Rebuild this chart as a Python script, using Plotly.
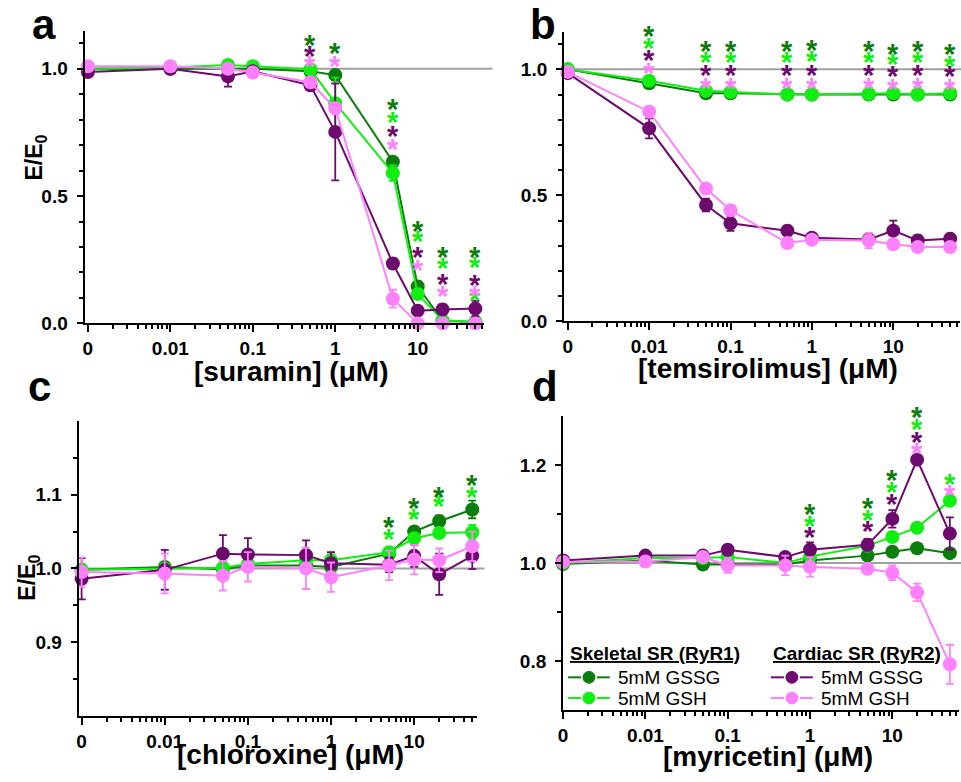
import math
import plotly.graph_objects as go

FONT = "Liberation Sans, Arial, sans-serif"
W, H = 961, 782

# ---------------- data ----------------
conc = [0, 0.01, 0.05, 0.1, 0.5, 1, 5, 10, 20, 50]   # µM ; 0 is drawn at the axis break
ZERO_POS = 1e-3

series_names = ["Skeletal GSSG", "Skeletal GSH", "Cardiac GSSG", "Cardiac GSH"]
colors = {"Skeletal GSSG": "#0b7d0b", "Skeletal GSH": "#11ee11",
          "Cardiac GSSG": "#6e0a6e", "Cardiac GSH": "#ff80ff"}

# panel a : suramin
sur_skel_gssg = [1.0, 1.0, 1.0, 1.0, 0.99, 0.975, 0.635, 0.145, 0.01, 0.005]
sur_skel_gsh  = [1.0, 1.005, 1.015, 1.01, 0.998, 0.865, 0.59, 0.115, 0.012, 0.005]
sur_card_gssg = [0.987, 1.0, 0.97, 0.99, 0.935, 0.752, 0.235, 0.05, 0.055, 0.058]
sur_card_gsh  = [1.01, 1.01, 1.0, 0.985, 0.947, 0.845, 0.097, 0.0, 0.0, 0.0]
sur_skel_gssg_err = [0.01, 0.01, 0.01, 0.01, 0.01, 0.02, 0.015, 0.02, 0.01, 0.005]
sur_skel_gsh_err  = [0.01, 0.01, 0.01, 0.01, 0.01, 0.1, 0.03, 0.02, 0.01, 0.005]
sur_card_gssg_err = [0.01, 0.02, 0.04, 0.02, 0.02, 0.19, 0.02, 0.01, 0.02, 0.03]
sur_card_gsh_err  = [0.01, 0.01, 0.01, 0.02, 0.02, 0.02, 0.035, 0.005, 0.005, 0.005]

# panel b : temsirolimus
tem_skel_gssg = [1.0, 0.945, 0.905, 0.905, 0.9, 0.9, 0.9, 0.9, 0.9, 0.9]
tem_skel_gsh  = [1.0, 0.955, 0.915, 0.91, 0.9, 0.9, 0.902, 0.905, 0.9, 0.905]
tem_card_gssg = [0.985, 0.766, 0.462, 0.389, 0.36, 0.332, 0.325, 0.36, 0.321, 0.328]
tem_card_gsh  = [0.99, 0.832, 0.527, 0.441, 0.311, 0.324, 0.321, 0.306, 0.295, 0.295]
tem_skel_gssg_err = [0.01] * 10
tem_skel_gsh_err  = [0.01] * 10
tem_card_gssg_err = [0.02, 0.04, 0.025, 0.03, 0.02, 0.015, 0.01, 0.04, 0.02, 0.02]
tem_card_gsh_err  = [0.02, 0.02, 0.02, 0.01, 0.02, 0.015, 0.03, 0.01, 0.015, 0.02]

# panel c : chloroxine
chl_skel_gssg = [0.998, 1.002, 0.999, 1.004, 1.004, 1.002, 1.02, 1.05, 1.064, 1.08]
chl_skel_gsh  = [0.998, 1.0, 1.001, 1.006, 1.011, 1.011, 1.022, 1.041, 1.048, 1.049]
chl_card_gssg = [0.986, 0.998, 1.02, 1.019, 1.018, 1.007, 1.005, 1.017, 0.992, 1.017]
chl_card_gsh  = [0.995, 0.993, 0.99, 1.002, 1.0, 0.988, 1.004, 1.012, 1.011, 1.03]
chl_skel_gssg_err = [0.005, 0.005, 0.005, 0.005, 0.005, 0.01, 0.005, 0.006, 0.008, 0.012]
chl_skel_gsh_err  = [0.005, 0.005, 0.005, 0.005, 0.005, 0.008, 0.005, 0.006, 0.006, 0.01]
chl_card_gssg_err = [0.028, 0.027, 0.025, 0.022, 0.02, 0.015, 0.01, 0.015, 0.028, 0.018]
chl_card_gsh_err  = [0.02, 0.027, 0.02, 0.02, 0.028, 0.02, 0.02, 0.02, 0.016, 0.02]

# panel d : myricetin
myr_skel_gssg = [0.998, 1.005, 0.997, 0.997, 0.997, 1.005, 1.015, 1.023, 1.03, 1.02]
myr_skel_gsh  = [1.0, 1.01, 1.01, 1.012, 1.0, 1.013, 1.035, 1.053, 1.072, 1.127]
myr_card_gssg = [1.005, 1.015, 1.015, 1.027, 1.012, 1.027, 1.037, 1.09, 1.211, 1.06]
myr_card_gsh  = [1.002, 1.003, 1.012, 0.995, 0.995, 0.992, 0.988, 0.98, 0.94, 0.793]
myr_skel_gssg_err = [0.005, 0.005, 0.005, 0.008, 0.01, 0.008, 0.005, 0.005, 0.005, 0.005]
myr_skel_gsh_err  = [0.005, 0.005, 0.005, 0.005, 0.005, 0.008, 0.005, 0.005, 0.005, 0.005]
myr_card_gssg_err = [0.005, 0.008, 0.008, 0.01, 0.008, 0.015, 0.012, 0.018, 0.005, 0.033]
myr_card_gsh_err  = [0.005, 0.01, 0.01, 0.015, 0.02, 0.02, 0.01, 0.015, 0.018, 0.04]

# significance asterisks (concentration, height)
sur_stars = {
    "Skeletal GSSG": ([0.5, 1, 5, 10, 20, 50], [1.12, 1.09, 0.87, 0.39, 0.29, 0.29]),
    "Skeletal GSH":  ([5, 10, 20, 50, 50], [0.817, 0.35, 0.244, 0.248, 0.12]),
    "Cardiac GSSG":  ([0.5, 5, 10, 20, 50], [1.077, 0.765, 0.288, 0.182, 0.178]),
    "Cardiac GSH":   ([0.5, 1, 5, 10, 20, 50], [1.04, 1.04, 0.713, 0.239, 0.136, 0.136]),
}
tem_star_x = [0.01, 0.05, 0.1, 0.5, 1, 5, 10, 20, 50]
tem_stars = {
    "Skeletal GSSG": (tem_star_x, [1.16, 1.10, 1.10, 1.10, 1.105, 1.10, 1.09, 1.10, 1.09]),
    "Skeletal GSH":  (tem_star_x, [1.112, 1.056, 1.056, 1.056, 1.062, 1.056, 1.05, 1.056, 1.043]),
    "Cardiac GSSG":  (tem_star_x, [1.065, 1.004, 1.004, 1.004, 1.004, 1.004, 1.0, 1.004, 1.0]),
    "Cardiac GSH":   (tem_star_x, [1.014, 0.952, 0.952, 0.952, 0.954, 0.952, 0.948, 0.952, 0.948]),
}
chl_stars = {
    "Skeletal GSSG": ([5, 10, 20, 50], [1.066, 1.092, 1.107, 1.123]),
    "Skeletal GSH":  ([5, 10, 20, 50], [1.05, 1.077, 1.094, 1.107]),
}
myr_stars = {
    "Skeletal GSSG": ([1, 5, 10, 20], [1.115, 1.127, 1.183, 1.313]),
    "Skeletal GSH":  ([1, 5, 10, 20, 50], [1.09, 1.103, 1.159, 1.288, 1.175]),
    "Cardiac GSSG":  ([1, 5, 10, 20], [1.067, 1.08, 1.135, 1.261]),
    "Cardiac GSH":   ([20, 50], [1.238, 1.153]),
}

x_tick_vals = [0, 0.01, 0.1, 1, 10]
x_tick_text = ["0", "0.01", "0.1", "1", "10"]

legend_groups = ["Skeletal SR (RyR1)", "Cardiac SR (RyR2)"]
legend_labels = ["5mM GSSG", "5mM GSH"]

panels = [
    dict(name="a", xlabel="[suramin] (μM)",
         data=[sur_skel_gssg, sur_skel_gsh, sur_card_gssg, sur_card_gsh],
         err=[sur_skel_gssg_err, sur_skel_gsh_err, sur_card_gssg_err, sur_card_gsh_err],
         stars=sur_stars, yrange=[0, 1.15], ytick=[0.0, 0.5, 1.0],
         yminor=[0.1, 0.2, 0.3, 0.4, 0.6, 0.7, 0.8, 0.9, 1.1],
         xdom=(80, 482), ydom=(31, 328), xr=[-3.04, 1.81]),
    dict(name="b", xlabel="[temsirolimus] (μM)",
         data=[tem_skel_gssg, tem_skel_gsh, tem_card_gssg, tem_card_gsh],
         err=[tem_skel_gssg_err, tem_skel_gsh_err, tem_card_gssg_err, tem_card_gsh_err],
         stars=tem_stars, yrange=[0, 1.15], ytick=[0.0, 0.5, 1.0],
         yminor=[0.1, 0.2, 0.3, 0.4, 0.6, 0.7, 0.8, 0.9, 1.1],
         xdom=(562, 960), ydom=(32, 326), xr=[-3.045, 1.82]),
    dict(name="c", xlabel="[chloroxine] (μM)",
         data=[chl_skel_gssg, chl_skel_gsh, chl_card_gssg, chl_card_gsh],
         err=[chl_skel_gssg_err, chl_skel_gsh_err, chl_card_gssg_err, chl_card_gsh_err],
         stars=chl_stars, yrange=[0.8, 1.2], ytick=[0.9, 1.0, 1.1],
         yminor=[0.85, 0.95, 1.05, 1.15],
         xdom=(74, 474), ydom=(427, 726), xr=[-3.036, 1.75]),
    dict(name="d", xlabel="[myricetin] (μM)",
         data=[myr_skel_gssg, myr_skel_gsh, myr_card_gssg, myr_card_gsh],
         err=[myr_skel_gssg_err, myr_skel_gsh_err, myr_card_gssg_err, myr_card_gsh_err],
         stars=myr_stars, yrange=[0.7, 1.3], ytick=[0.8, 1.0, 1.2],
         yminor=[0.9, 1.1],
         xdom=(561, 959), ydom=(422, 720), xr=[-3.0, 1.81]),
]


def xpos(vals):
    return [ZERO_POS if v == 0 else v for v in vals]


minor_x = [k * 10 ** d for d in range(-3, 2) for k in range(2, 10) if k * 10 ** d <= 60]

fig = go.Figure()
layout = dict(width=W, height=H, margin=dict(l=0, r=0, t=0, b=0),
              paper_bgcolor="white", plot_bgcolor="white",
              font=dict(family=FONT, color="black"), showlegend=False)
shapes, annotations = [], []


def px(x):
    return x / W


def py(y):
    return 1 - y / H


for i, p in enumerate(panels):
    n = "" if i == 0 else str(i + 1)
    xa, ya = "x" + n, "y" + n
    x0, x1 = p["xdom"]
    y0, y1 = p["ydom"]
    layout["xaxis" + n] = dict(
        type="log", range=p["xr"], domain=[px(x0), px(x1)], anchor=ya,
        tickmode="array", tickvals=xpos(x_tick_vals), ticktext=x_tick_text,
        ticks="outside", ticklen=7, tickwidth=2, tickcolor="black",
        showline=True, linewidth=2, linecolor="black",
        showgrid=False, zeroline=False,
        tickfont=dict(family=FONT, size=19, color="black", weight="bold"),
        minor=dict(tickmode="array", tickvals=minor_x, ticks="outside", ticklen=4,
                   tickwidth=1.5, tickcolor="black", showgrid=False))
    layout["yaxis" + n] = dict(
        range=p["yrange"], domain=[py(y1), py(y0)], anchor=xa,
        tickmode="array", tickvals=p["ytick"], tickformat=".1f",
        ticks="outside", ticklen=6, tickwidth=2, tickcolor="black",
        ticklabelstandoff=5,
        showline=True, linewidth=2, linecolor="black",
        showgrid=False, zeroline=False,
        tickfont=dict(family=FONT, size=19, color="black", weight="bold"),
        minor=dict(tickmode="array", tickvals=p["yminor"], ticks="outside", ticklen=4,
                   tickwidth=1.5, tickcolor="black", showgrid=False))
    shapes.append(dict(type="line", xref=xa + " domain", x0=0, x1=1.02, yref=ya,
                       y0=1, y1=1, line=dict(color="#a0a0a0", width=2), layer="below"))

    for s, name in enumerate(series_names):
        col = colors[name]
        fig.add_trace(go.Scatter(
            x=xpos(conc), y=p["data"][s], xaxis=xa, yaxis=ya,
            mode="lines+markers", name=name, cliponaxis=False,
            line=dict(color=col, width=2),
            marker=dict(size=14, color=col),
            error_y=dict(type="data", array=p["err"][s], color=col,
                         thickness=1.8, width=4)))
    # significance asterisks, placed through the axes.  The (invisible) arrow
    # head sits inside the axis range so stars drawn just above the frame stay visible.
    y_mid = sum(p["yrange"]) / 2
    for name in series_names:
        if name not in p["stars"]:
            continue
        sx, sy = p["stars"][name]
        for xv, yv in zip(xpos(sx), sy):
            lx = math.log10(xv)
            annotations.append(dict(
                text="*", xref=xa, yref=ya, x=lx, y=y_mid,
                axref=xa, ayref=ya, ax=lx, ay=yv,
                showarrow=True, arrowcolor="rgba(0,0,0,0)", arrowwidth=0.1,
                arrowhead=0, yshift=-7,
                font=dict(family=FONT, size=29, color=colors[name], weight="bold")))


def ann(text, x, y, size, angle=0, bold=True, xanchor="center"):
    annotations.append(dict(text=text, x=px(x), y=py(y), xref="paper", yref="paper",
                            xanchor=xanchor, yanchor="middle", showarrow=False,
                            textangle=angle,
                            font=dict(family=FONT, size=size, color="black",
                                      weight="bold" if bold else "normal")))


# panel letters
ann("a", 39, 25, 42)
ann("b", 541, 25, 42)
ann("c", 35, 392, 42)
ann("d", 543, 392, 42)
# axis titles
ann(panels[0]["xlabel"], 287, 377, 28)
ann(panels[1]["xlabel"], 767, 374, 28)
ann(panels[2]["xlabel"], 287, 765, 28)
ann(panels[3]["xlabel"], 767, 767, 28)
ann("E/E<sub>0</sub>", 31, 160, 23, angle=-90)
ann("E/E<sub>0</sub>", 24, 586, 23, angle=-90)

# legend (drawn inside panel d, two columns)
leg_cols = [(566, [colors["Skeletal GSSG"], colors["Skeletal GSH"]]),
            (770, [colors["Cardiac GSSG"], colors["Cardiac GSH"]])]
head_y, row_y = 663, [687, 708]
for (lx, cols), group in zip(leg_cols, legend_groups):
    ann("<u>" + group + "</u>", lx, head_y, 19, xanchor="left")
    for col, ry, lab in zip(cols, row_y, legend_labels):
        for a0, a1 in [(lx, lx + 13), (lx + 29, lx + 42)]:
            shapes.append(dict(type="line", xref="paper", yref="paper",
                               x0=px(a0), x1=px(a1), y0=py(ry), y1=py(ry),
                               line=dict(color=col, width=2)))
        shapes.append(dict(type="circle", xref="paper", yref="paper",
                           x0=px(lx + 15), x1=px(lx + 27), y0=py(ry + 6), y1=py(ry - 6),
                           fillcolor=col, line=dict(color=col, width=1)))
        ann(lab, lx + 48, ry, 19, bold=False, xanchor="left")

layout["shapes"] = shapes
layout["annotations"] = annotations
fig.update_layout(**layout)

fig.write_html("out.html", config={"displayModeBar": False},
               post_script="document.body.style.margin='0';")
